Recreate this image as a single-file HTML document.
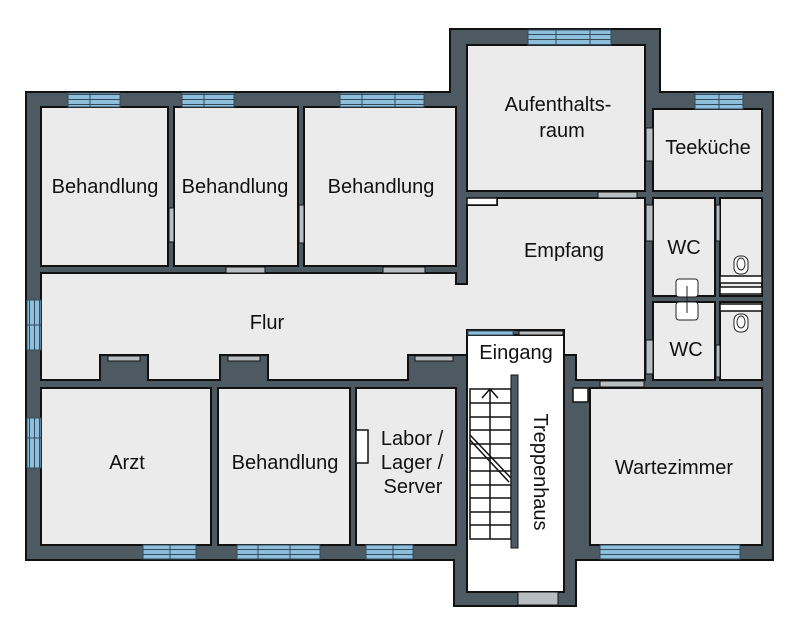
<!DOCTYPE html>
<html><head><meta charset="utf-8"><style>
html,body{margin:0;padding:0;background:#fff;width:800px;height:632px;overflow:hidden}
svg{display:block}
text{font-family:"Liberation Sans",sans-serif;font-size:20px;fill:#111}
</style></head><body>
<svg width="800" height="632" viewBox="0 0 800 632">
<defs>
<pattern id="win" width="10" height="5" patternUnits="userSpaceOnUse">
<rect width="10" height="5" fill="#8dbfdc"/><rect y="4" width="10" height="1" fill="#34495a"/>
</pattern>
<pattern id="winv" width="5" height="10" patternUnits="userSpaceOnUse">
<rect width="5" height="10" fill="#8dbfdc"/><rect x="4" width="1" height="10" fill="#34495a"/>
</pattern>
</defs>
<g stroke="#111" stroke-width="2" stroke-linejoin="miter">
<polygon fill="#4d5a61" points="26,92 450,92 450,29 660,29 660,92 773,92 773,560 576,560 576,606 454,606 454,560 26,560"/>
<g fill="#ebebeb">
<rect x="41" y="107" width="127" height="159"/>
<rect x="174" y="107" width="124" height="159"/>
<rect x="304" y="107" width="152" height="159"/>
<rect x="467" y="45" width="178" height="146"/>
<rect x="653" y="109" width="109" height="82"/>
<rect x="653" y="198" width="62" height="98"/>
<rect x="720" y="198" width="42" height="98"/>
<rect x="653" y="302" width="62" height="78"/>
<rect x="720" y="302" width="42" height="78"/>
<rect x="590" y="388" width="172" height="157"/>
<rect x="41" y="388" width="170" height="157"/>
<rect x="218" y="388" width="132" height="157"/>
<rect x="356" y="388" width="100" height="157"/>
<polygon points="41,273 456,273 456,284 467,284 467,205 497,205 497,198 645,198 645,380 576,380 576,355 564,355 564,330 467,330 467,355 454,355 454,355 408,355 408,380 268,380 268,355 220,355 220,380 148,380 148,355 100,355 100,380 41,380"/>
</g>
<rect x="467" y="335" width="97" height="257" fill="#fff"/>
<rect x="467" y="198" width="30" height="7" fill="#fff" stroke-width="1.5"/>
<rect x="573" y="388" width="15" height="14" fill="#fff" stroke-width="1.5"/>
<rect x="356" y="430" width="12" height="33" fill="#fff" stroke-width="1.5"/>
<rect x="720" y="276" width="42" height="7" fill="#fff" stroke-width="1.5"/>
<rect x="720" y="287" width="42" height="7" fill="#fff" stroke-width="1.5"/>
<rect x="720" y="304" width="42" height="7" fill="#fff" stroke-width="1.5"/>
</g>
<g stroke="#34495a" stroke-width="1">
<rect x="68" y="93" width="52" height="14" fill="url(#win)"/>
<rect x="182" y="93" width="52" height="14" fill="url(#win)"/>
<rect x="340" y="93" width="84" height="14" fill="url(#win)"/>
<rect x="528" y="30" width="83" height="15" fill="url(#win)"/>
<rect x="695" y="93" width="48" height="16" fill="url(#win)"/>
<rect x="143" y="545" width="53" height="14" fill="url(#win)"/>
<rect x="237" y="545" width="83" height="14" fill="url(#win)"/>
<rect x="366" y="545" width="47" height="14" fill="url(#win)"/>
<rect x="600" y="545" width="140" height="14" fill="url(#win)"/>
<rect x="27" y="300" width="14" height="50" fill="url(#winv)"/>
<rect x="27" y="418" width="14" height="50" fill="url(#winv)"/>
<line x1="90" y1="93" x2="90" y2="107"/><line x1="204" y1="93" x2="204" y2="107"/>
<line x1="362" y1="93" x2="362" y2="107"/><line x1="395" y1="93" x2="395" y2="107"/>
<line x1="556" y1="30" x2="556" y2="45"/><line x1="590" y1="30" x2="590" y2="45"/>
<line x1="719" y1="93" x2="719" y2="109"/>
<line x1="170" y1="545" x2="170" y2="559"/><line x1="258" y1="545" x2="258" y2="559"/><line x1="290" y1="545" x2="290" y2="559"/>
<line x1="393" y1="545" x2="393" y2="559"/>
<line x1="27" y1="325" x2="41" y2="325"/><line x1="27" y1="438" x2="41" y2="438"/>
<rect x="468" y="331" width="45" height="4" fill="#8dbfdc"/>
</g>
<g fill="#b8bec2" stroke="#111" stroke-width="1">
<rect x="169" y="208" width="5" height="34"/>
<rect x="299" y="205" width="5" height="38"/>
<rect x="226" y="267" width="39" height="6"/>
<rect x="383" y="267" width="42" height="6"/>
<rect x="598" y="192" width="39" height="6"/>
<rect x="646" y="128" width="7" height="33"/>
<rect x="646" y="205" width="7" height="36"/>
<rect x="646" y="340" width="7" height="34"/>
<rect x="716" y="205" width="4" height="36"/>
<rect x="716" y="345" width="4" height="32"/>
<rect x="600" y="381" width="44" height="6"/>
<rect x="108" y="356" width="32" height="5"/>
<rect x="228" y="356" width="32" height="5"/>
<rect x="415" y="356" width="38" height="5"/>
<rect x="519" y="331" width="44" height="4"/>
<rect x="518" y="592" width="40" height="13"/>
</g>
<g fill="#fff" stroke="#222" stroke-width="1">
<rect x="676" y="279" width="22" height="18" rx="3"/><rect x="676" y="302" width="22" height="18" rx="3"/>
<line x1="687" y1="286" x2="687" y2="313"/>
<rect x="734" y="256" width="14" height="18" rx="6"/><ellipse cx="741" cy="264" rx="4" ry="6"/>
<rect x="734" y="314" width="14" height="18" rx="6"/><ellipse cx="741" cy="322" rx="4" ry="6"/>
</g>
<g stroke="#111" stroke-width="1.5" fill="none">
<rect x="470" y="389" width="41" height="150"/>
<line x1="490" y1="389" x2="490" y2="539"/>
<path d="M470,403H511M470,417H511M470,430H511M470,444H511M470,458H511M470,471H511M470,485H511M470,498H511M470,512H511M470,525H511"/>
<path d="M482,398L490,389L498,398"/>
<line x1="470" y1="435" x2="511" y2="478"/><line x1="470" y1="440" x2="509" y2="482"/>
</g>
<rect x="511" y="375" width="7" height="173" fill="#4d5a61" stroke="#111" stroke-width="1"/>
<text x="105" y="193" text-anchor="middle">Behandlung</text>
<text x="235" y="193" text-anchor="middle">Behandlung</text>
<text x="381" y="193" text-anchor="middle">Behandlung</text>
<text x="558" y="111" text-anchor="middle">Aufenthalts-</text>
<text x="562" y="137" text-anchor="middle">raum</text>
<text x="708" y="154" text-anchor="middle">Teeküche</text>
<text x="564" y="257" text-anchor="middle">Empfang</text>
<text x="684" y="254" text-anchor="middle">WC</text>
<text x="686" y="356" text-anchor="middle">WC</text>
<text x="267" y="329" text-anchor="middle">Flur</text>
<text x="516" y="359" text-anchor="middle">Eingang</text>
<text x="127" y="469" text-anchor="middle">Arzt</text>
<text x="285" y="469" text-anchor="middle">Behandlung</text>
<text x="412" y="445" text-anchor="middle">Labor /</text>
<text x="412" y="469" text-anchor="middle">Lager /</text>
<text x="413" y="493" text-anchor="middle">Server</text>
<text x="674" y="474" text-anchor="middle">Wartezimmer</text>
<text transform="translate(534,472) rotate(90)" text-anchor="middle">Treppenhaus</text>
</svg>
</body></html>
